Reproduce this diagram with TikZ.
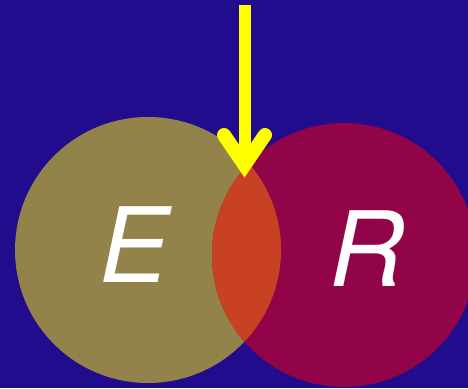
\documentclass[tikz,border=0pt]{standalone}
\usepackage{fontspec}
\setmainfont{TeX Gyre Heros}
\usetikzlibrary{positioning, calc}
\definecolor{vennBlue}{HTML}{220C8E}
\definecolor{vennOlive}{HTML}{93834A}
\definecolor{vennCrimson}{HTML}{910548}
\definecolor{vennOrange}{HTML}{C84123}
\definecolor{vennYellow}{HTML}{FFFF00}

\begin{document}
\begin{tikzpicture}[
    x=1pt, y=-1pt,
    setlabel/.style={text=white, inner sep=0pt, font=\fontsize{104pt}{104pt}\selectfont\itshape},
    arrowline/.style={draw=vennYellow, line width=12pt}
]
    \fill[vennBlue] (0,0) rectangle (468,388);
    \useasboundingbox (0,0) rectangle (468,388);

    % the two sets
    \coordinate (Ecenter) at (148,250);
    \coordinate (Rcenter) at (344,255);
    \fill[vennOlive] (Ecenter) circle[radius=133];
    \fill[vennCrimson] (Rcenter) circle[radius=132];
    \begin{scope}
        \clip (Ecenter) circle[radius=133];
        \fill[vennOrange] (Rcenter) circle[radius=132];
    \end{scope}

    \node[setlabel] (E) at (134,245) {E};
    \node[setlabel] (R) at (367,249) {R};

    % arrow pointing at the overlap
    \coordinate (top) at (244.5,5);
    \coordinate (tip) at (244.5,165);
    \draw[arrowline] (top) -- (tip);
    \draw[arrowline, line width=14pt, line cap=round, line join=miter]
        ($(tip)+(-20.5,-30)$) -- (tip) -- ($(tip)+(20.5,-30)$);
\end{tikzpicture}
\end{document}
